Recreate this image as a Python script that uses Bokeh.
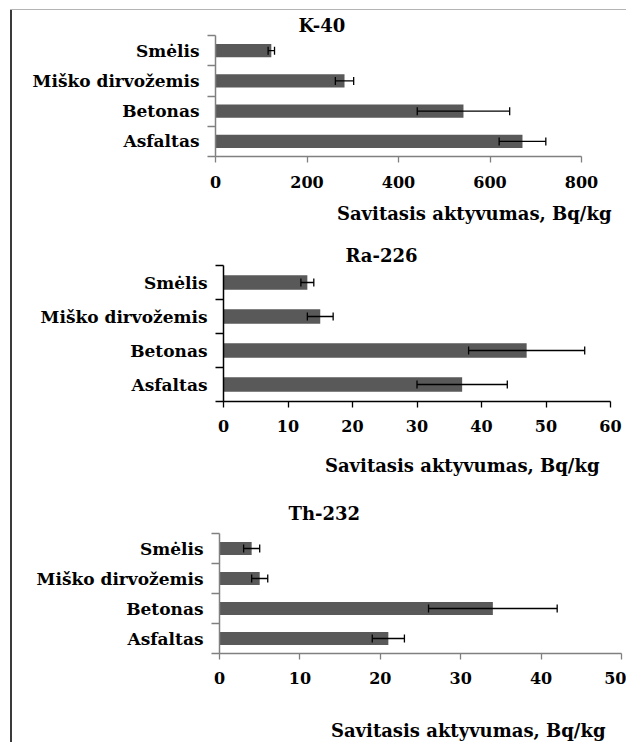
from bokeh.plotting import figure
from bokeh.models import (ColumnDataSource, FixedTicker, Whisker, TeeHead,
                          Range1d, LinearAxis, Title, Column)
from bokeh.embed import file_html
from bokeh.resources import INLINE

# ---------------- data ----------------
categories = ["Asfaltas", "Betonas", "Miško dirvožemis", "Smėlis"]

k40_values = [671, 542, 282, 122]
k40_errors = [51, 101, 20, 7]

ra226_values = [37, 47, 15, 13]
ra226_errors = [7, 9, 2, 1]

th232_values = [21, 34, 5, 4]
th232_errors = [2, 8, 1, 1]

k40_ticks = [0, 200, 400, 600, 800]
ra226_ticks = [0, 10, 20, 30, 40, 50, 60]
th232_ticks = [0, 10, 20, 30, 40, 50]

panel_titles = ["K-40", "Ra-226", "Th-232"]
x_label = "Savitasis aktyvumas, Bq/kg"

FONT = "DejaVu Serif"
BAR = "#595959"
W = 626


def panel(title, values, errors, ticks, height, borders, axis_color,
          title_offset, title_standoff, label_offset, label_gap, tick_standoff):
    left, right, top, bottom = borders
    ys = [i + 0.5 for i in range(len(categories))]
    src = ColumnDataSource(dict(
        y=ys, v=values,
        lo=[v - e for v, e in zip(values, errors)],
        hi=[v + e for v, e in zip(values, errors)],
    ))
    p = figure(width=W, height=height,
               x_range=Range1d(ticks[0], ticks[-1]),
               y_range=Range1d(0, len(categories)),
               output_backend="svg", toolbar_location=None,
               min_border_left=left, min_border_right=right,
               min_border_top=top, min_border_bottom=bottom,
               title=title, frame_align=False)
    p.border_fill_color = None
    p.outline_line_color = None
    p.grid.visible = False

    p.hbar(y="y", left=0, right="v", height=0.43, source=src,
           fill_color=BAR, line_color=None)

    w = Whisker(source=src, base="y", lower="lo", upper="hi",
                dimension="width", line_color="black", line_width=1.3,
                level="overlay",
                upper_head=TeeHead(size=8, line_color="black", line_width=1.3),
                lower_head=TeeHead(size=8, line_color="black", line_width=1.3))
    p.add_layout(w)

    # x axis
    xa = p.xaxis[0]
    xa.ticker = FixedTicker(ticks=ticks, minor_ticks=[])
    xa.axis_line_color = axis_color
    xa.axis_line_width = 1.5
    xa.major_tick_line_color = axis_color
    xa.major_tick_line_width = 1.3
    xa.major_tick_in = 0
    xa.major_tick_out = 6
    xa.major_label_standoff = tick_standoff
    xa.major_label_text_font = FONT
    xa.major_label_text_font_style = "bold"
    xa.major_label_text_font_size = "16px"
    xa.major_label_text_color = "black"

    # y axis: labels at category centres, ticks at category boundaries
    ya = p.yaxis[0]
    ya.ticker = FixedTicker(ticks=ys, minor_ticks=list(range(len(categories) + 1)))
    ya.major_label_overrides = {y: c for y, c in zip(ys, categories)}
    ya.axis_line_color = axis_color
    ya.axis_line_width = 1.5
    ya.major_tick_line_color = None
    ya.major_tick_in = 0
    ya.major_tick_out = 8
    ya.minor_tick_line_color = axis_color
    ya.minor_tick_line_width = 1.3
    ya.minor_tick_in = 0
    ya.minor_tick_out = 8
    ya.major_label_standoff = 8
    ya.major_label_text_font = FONT
    ya.major_label_text_font_style = "bold"
    ya.major_label_text_font_size = "17px"
    ya.major_label_text_color = "black"

    p.title.align = "left"
    p.title.offset = title_offset
    p.title.standoff = title_standoff
    p.title.text_font = FONT
    p.title.text_font_style = "bold"
    p.title.text_font_size = "18px"
    p.title.text_color = "black"

    # invisible axis used only as vertical spacing before the axis title
    spacer = LinearAxis(ticker=FixedTicker(ticks=[ticks[0]], minor_ticks=[]),
                        axis_line_color=None, major_tick_line_alpha=0,
                        major_tick_line_color="white",
                        minor_tick_line_color=None, major_tick_in=0,
                        major_tick_out=label_gap, minor_tick_in=0,
                        minor_tick_out=0, major_label_standoff=0,
                        major_label_text_color=None,
                        major_label_text_font_size="1px")
    p.add_layout(spacer, "below")
    p.add_layout(Title(text=x_label, align="right", offset=label_offset,
                       standoff=0, vertical_align="bottom",
                       text_font=FONT, text_font_style="bold",
                       text_font_size="18px", text_color="black"), "below")
    return p


p1 = panel(panel_titles[0], k40_values, k40_errors, k40_ticks,
           height=240, borders=(215, 45, 35, 84), axis_color="#808080",
           title_offset=83, title_standoff=0, label_offset=-30, label_gap=10,
           tick_standoff=13)
p2 = panel(panel_titles[1], ra226_values, ra226_errors, ra226_ticks,
           height=249, borders=(223, 16, 25, 88), axis_color="black",
           title_offset=122, title_standoff=0, label_offset=11, label_gap=18,
           tick_standoff=12)
p3 = panel(panel_titles[2], th232_values, th232_errors, th232_ticks,
           height=253, borders=(219, 5, 44, 89), axis_color="#808080",
           title_offset=69, title_standoff=20, label_offset=16, label_gap=31,
           tick_standoff=12)

layout = Column(children=[p1, p2, p3], styles={
    "background": "linear-gradient(#b4b4b4, #b4b4b4) 10px 9px / 100% 1px no-repeat, "
                  "linear-gradient(#3a3a3a, #3a3a3a) 10px 9px / 2px 100% no-repeat"
})

open("out.html", "w").write(file_html(layout, INLINE))
